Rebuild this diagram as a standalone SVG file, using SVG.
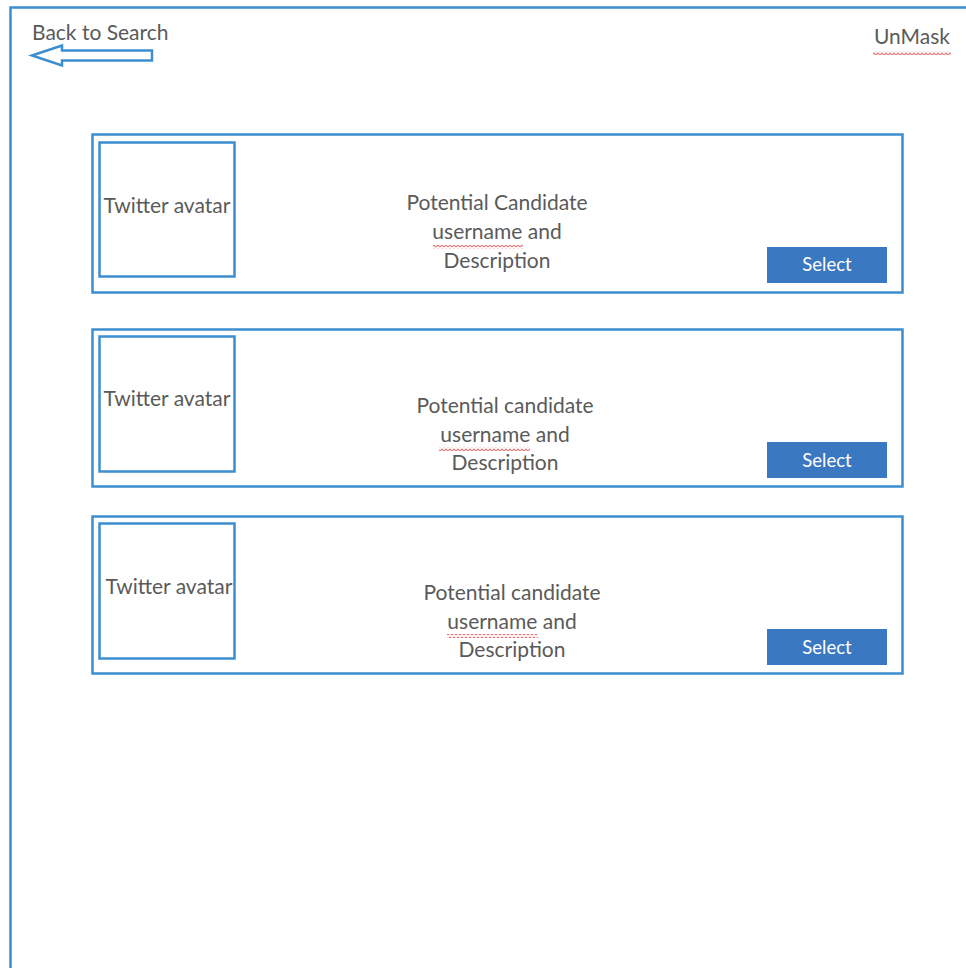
<svg xmlns="http://www.w3.org/2000/svg" width="966" height="968" viewBox="0 0 966 968">
<defs>
<style>
.frame{fill:none;stroke:#3d8ecf;stroke-width:2.5}
.box{fill:#fff;stroke:#3d8ecf;stroke-width:2.5}
.t{font-family:Lato,"Open Sans","Liberation Sans",sans-serif;font-size:21px;fill:#5a5a5a}
.c{text-anchor:middle}
.btn{fill:#3a78c2}
.bt{font-family:Lato,"Open Sans","Liberation Sans",sans-serif;font-size:18.5px;fill:#fff;text-anchor:middle}
</style>
<pattern id="wave" width="4" height="4" patternUnits="userSpaceOnUse">
<path d="M0,3 L2,1 L4,3" fill="none" stroke="#e07a7a" stroke-width="1.1"/>
</pattern>
</defs>
<rect width="966" height="968" fill="#fff"/>
<path class="frame" d="M10.5,968 V7.5 H966"/>
<g id="back">
<text class="t" x="32" y="40">Back to Search</text>
<path class="frame" d="M32,55.5 L62,45.5 V50.5 H152 V60.5 H62 V65.5 Z"/>
</g>
<g id="unmask">
<text class="t" x="950" y="44" text-anchor="end">UnMask</text>
<rect x="873" y="51" width="78" height="4" fill="url(#wave)"/>
</g>
<g id="card1">
<rect class="box" x="92.5" y="134.5" width="810" height="158"/>
<rect class="box" x="99.5" y="142.5" width="135" height="134"/>
<text class="t c" x="167" y="213">Twitter avatar</text>
<text class="t c" x="497" y="210">Potential Candidate</text>
<text class="t c" x="497" y="239">username and</text>
<text class="t c" x="497" y="268">Description</text>
<rect x="433" y="245" width="90" height="4" fill="url(#wave)"/>
<rect class="btn" x="767" y="247" width="120" height="36"/>
<text class="bt" x="827" y="271">Select</text>
</g>
<g id="card2">
<rect class="box" x="92.5" y="329.5" width="810" height="157"/>
<rect class="box" x="99.5" y="336.5" width="135" height="135"/>
<text class="t c" x="167" y="406">Twitter avatar</text>
<text class="t c" x="505" y="413">Potential candidate</text>
<text class="t c" x="505" y="442">username and</text>
<text class="t c" x="505" y="470">Description</text>
<rect x="439" y="447" width="91" height="4" fill="url(#wave)"/>
<rect class="btn" x="767" y="442" width="120" height="36"/>
<text class="bt" x="827" y="467">Select</text>
</g>
<g id="card3">
<rect class="box" x="92.5" y="516.5" width="810" height="157"/>
<rect class="box" x="99.5" y="523.5" width="135" height="135"/>
<text class="t c" x="169" y="594">Twitter avatar</text>
<text class="t c" x="512" y="600">Potential candidate</text>
<text class="t c" x="512" y="629">username and</text>
<text class="t c" x="512" y="657">Description</text>
<rect x="447" y="634" width="91" height="4" fill="url(#wave)"/>
<rect class="btn" x="767" y="629" width="120" height="36"/>
<text class="bt" x="827" y="654">Select</text>
</g>
<g id="connectors"/>
</svg>
